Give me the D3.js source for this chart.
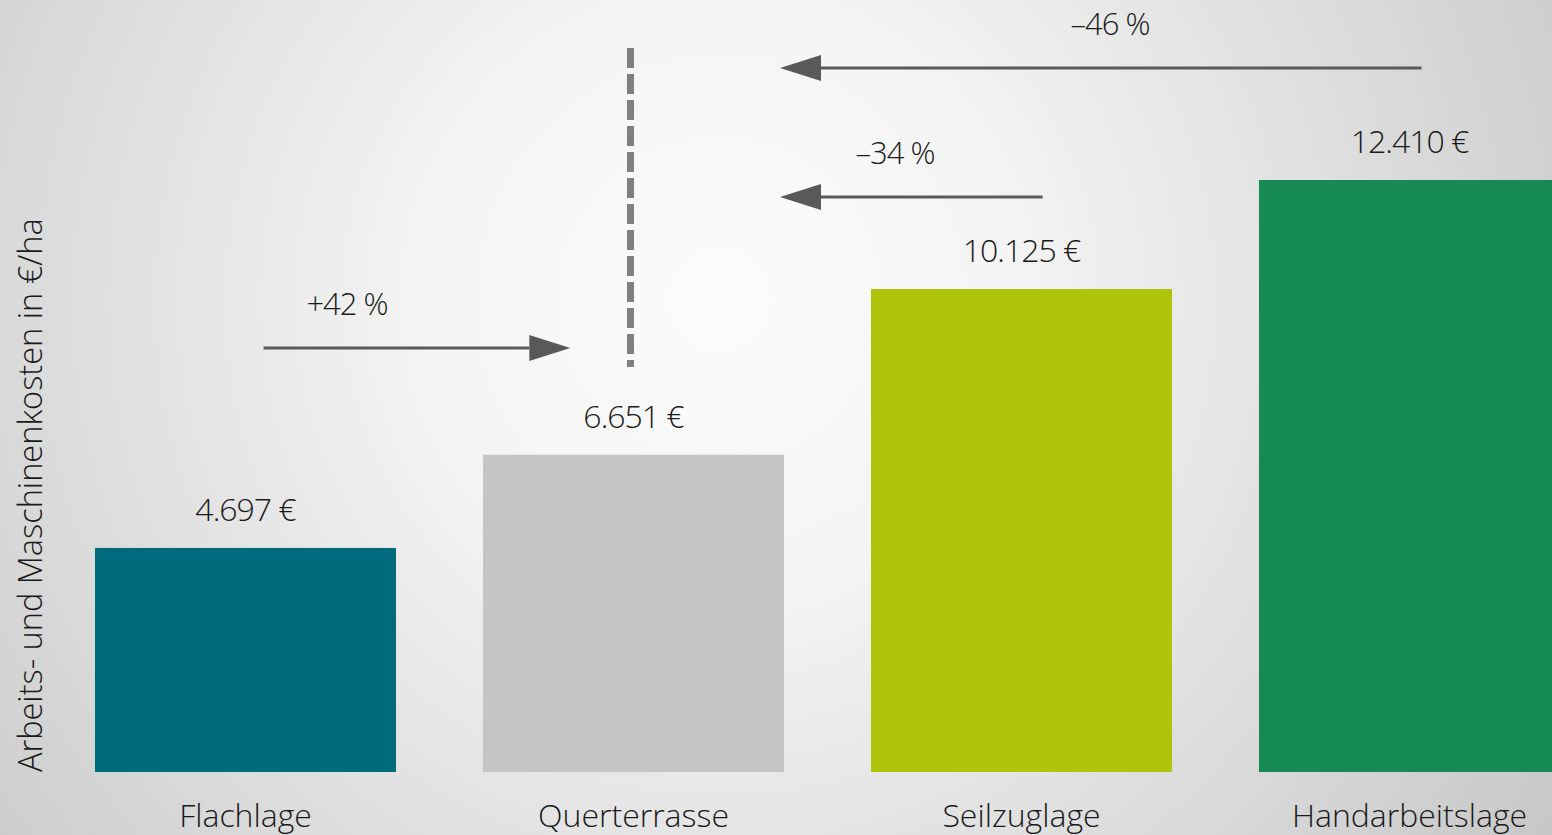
<!DOCTYPE html>
<html>
<head>
<meta charset="utf-8">
<script src="https://cdn.jsdelivr.net/npm/d3@7"></script>
<style>
  html, body { margin: 0; padding: 0; overflow: hidden; }
  text { font-family: "Open Sans", "Lato", sans-serif; font-weight: 300; fill: #1a1a1a; }
</style>
</head>
<body>
<div id="chart"></div>
<script>
// Daten
const categories = ["Flachlage", "Querterrasse", "Seilzuglage", "Handarbeitslage"];
const costs = [4697, 6651, 10125, 12410];
const costLabels = ["4.697 €", "6.651 €", "10.125 €", "12.410 €"];
const barColors = ["#006b7c", "#c4c5c4", "#b0c40c", "#158a53"];
const changeLabels = ["+42 %", "–34 %", "–46 %"];
const changeFrom = ["Flachlage", "Seilzuglage", "Handarbeitslage"];
const changeTo = ["Querterrasse", "Querterrasse", "Querterrasse"];
const yTitle = "Arbeits- und Maschinenkosten in €/ha";

const W = 1552, H = 835;

const svg = d3.select("#chart")
    .append("svg")
    .attr("width", W)
    .attr("height", H);

// Hintergrund mit radialem Verlauf
const defs = svg.append("defs");
const grad = defs.append("radialGradient")
    .attr("id", "bg")
    .attr("gradientUnits", "userSpaceOnUse")
    .attr("cx", 720).attr("cy", 300).attr("r", 980);
grad.append("stop").attr("offset", 0).attr("stop-color", "#fcfcfc");
grad.append("stop").attr("offset", 0.3).attr("stop-color", "#f4f4f4");
grad.append("stop").attr("offset", 1).attr("stop-color", "#c8c8c8");

svg.append("rect").attr("width", W).attr("height", H).attr("fill", "url(#bg)");

const x = d3.scaleBand().domain(categories).range([95, 1560]).paddingInner(0.2242).paddingOuter(0);
const y = d3.scaleLinear().domain([0, 12410]).range([772, 180]);

const dataset = categories.map((c, i) => ({ cat: c, value: costs[i], label: costLabels[i], color: barColors[i] }));

// Balken
svg.selectAll(".bar")
    .data(dataset)
    .enter()
    .append("rect")
    .attr("class", "bar")
    .attr("x", d => x(d.cat))
    .attr("y", d => y(d.value))
    .attr("width", x.bandwidth())
    .attr("height", d => y(0) - y(d.value))
    .attr("fill", d => d.color);

// Wertbeschriftung
svg.selectAll(".val")
    .data(dataset)
    .enter()
    .append("text")
    .attr("class", "val")
    .attr("x", d => x(d.cat) + x.bandwidth() / 2)
    .attr("y", d => y(d.value) - 27)
    .attr("text-anchor", "middle")
    .style("font-size", "32px")
    .style("letter-spacing", "-1px")
    .text(d => d.label);

// Kategorien (x-Achse ohne Linie)
const xAxis = svg.append("g")
    .attr("transform", `translate(0, ${y(0)})`)
    .call(d3.axisBottom(x).tickSize(0).tickPadding(32));
xAxis.select(".domain").remove();
xAxis.selectAll("text")
    .style("font-size", "32px")
    .style("font-family", "'Open Sans', sans-serif")
    .style("font-weight", 300)
    .attr("fill", "#1a1a1a");

// y-Achsentitel
svg.append("text")
    .attr("transform", `translate(42, ${y(0)}) rotate(-90)`)
    .attr("text-anchor", "start")
    .style("font-size", "32.5px")
    .text(yTitle);

// gestrichelte Linie über Querterrasse
const qx = x("Querterrasse") + x.bandwidth() / 2 - 3;
svg.append("line")
    .attr("x1", qx).attr("x2", qx)
    .attr("y1", 48).attr("y2", 367)
    .attr("stroke", "#808080")
    .attr("stroke-width", 7)
    .attr("stroke-dasharray", "20 6");

// Pfeile
const arrows = changeLabels.map((lab, i) => {
    const fromRight = x(changeFrom[i]) > x(changeTo[i]);
    const tail = fromRight
        ? x(changeFrom[i]) + x.bandwidth() * (i === 1 ? 0.57 : 0.54)
        : x(changeFrom[i]) + x.bandwidth() * 0.56;
    const tip = fromRight
        ? x(changeTo[i]) + x.bandwidth() - 4
        : x(changeTo[i]) + x.bandwidth() * 0.29;
    return { label: lab, tail, tip, dir: fromRight ? -1 : 1 };
});
const arrowY = [348, 197, 68];
const labelX = [347, 895, 1110];

const head = 41, half = 13;
arrows.forEach((a, i) => {
    const yy = arrowY[i];
    const base = a.tip - a.dir * head;
    svg.append("line")
        .attr("x1", a.tail).attr("x2", base)
        .attr("y1", yy).attr("y2", yy)
        .attr("stroke", "#5a5a5a")
        .attr("stroke-width", 3);
    svg.append("path")
        .attr("d", `M${a.tip},${yy} L${base},${yy - half} L${base},${yy + half} Z`)
        .attr("fill", "#595959");
    svg.append("text")
        .attr("x", labelX[i])
        .attr("y", yy - 33)
        .attr("text-anchor", "middle")
        .style("font-size", "31px")
        .style("letter-spacing", "-1px")
        .text(a.label);
});
</script>
</body>
</html>
